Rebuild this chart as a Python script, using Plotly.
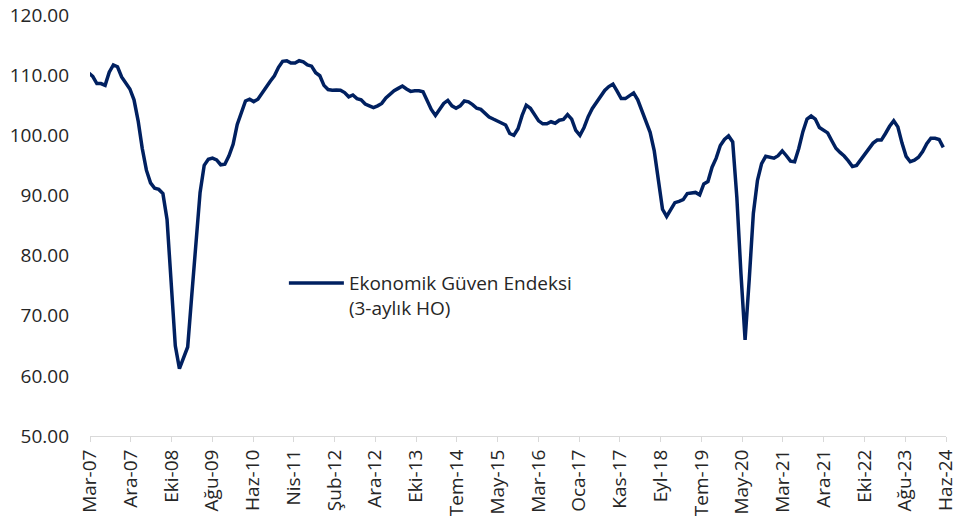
import plotly.graph_objects as go

# Ekonomik Güven Endeksi (3-aylık HO), monthly, Mar-07 .. Haz-24
values = [
    110.4, 109.8, 108.6, 108.6, 108.3, 110.5, 111.7, 111.4, 109.7, 108.8,
    107.7, 105.9, 102.4, 97.8, 94.2, 92.1, 91.2, 91.0, 90.3, 86.0,
    74.5, 65.0, 61.2, 63.0, 64.8, 73.5, 81.5, 90.5, 95.0, 96.0,
    96.2, 95.9, 95.1, 95.2, 96.6, 98.5, 101.8, 103.7, 105.7, 106.0,
    105.6, 106.0, 106.9, 108.0, 109.0, 109.9, 111.3, 112.3, 112.4, 112.0,
    112.0, 112.4, 112.2, 111.7, 111.5, 110.4, 109.9, 108.3, 107.6, 107.5,
    107.55, 107.5, 107.1, 106.4, 106.7, 106.1, 105.9, 105.2, 104.9, 104.6,
    104.9, 105.3, 106.2, 106.9, 107.4, 107.8, 108.2, 107.7, 107.3, 107.4,
    107.4, 107.25, 105.9, 104.3, 103.3, 104.2, 105.3, 105.8, 104.9, 104.5,
    104.9, 105.7, 105.55, 105.1, 104.5, 104.3, 103.7, 103.05, 102.7, 102.45,
    102.05, 101.7, 100.3, 100.0, 101.1, 103.3, 105.0, 104.5, 103.4, 102.4,
    101.9, 101.9, 102.25, 102.0, 102.5, 102.65, 103.45, 102.7, 100.8, 100.0,
    101.3, 103.1, 104.45, 105.45, 106.2, 107.45, 108.1, 108.5, 107.35, 106.1,
    106.1, 106.6, 107.05, 105.9, 104.1, 102.05, 100.5, 97.4, 92.0, 87.7,
    86.5, 87.8, 88.8, 89.0, 89.3, 90.3, 90.4, 90.5, 90.1, 91.9,
    92.3, 94.7, 96.2, 98.3, 99.3, 99.9, 98.9, 89.7, 77.0, 66.0,
    76.0, 87.0, 92.5, 95.3, 96.5, 96.4, 96.2, 96.6, 97.4, 96.6,
    95.7, 95.6, 97.8, 100.6, 102.7, 103.2, 102.7, 101.3, 100.9, 100.4,
    99.1, 97.85, 97.15, 96.55, 95.75, 94.8, 95.0, 95.9, 97.0, 97.9,
    98.7, 99.2, 99.2, 100.3, 101.5, 102.4, 101.4, 98.7, 96.5, 95.6,
    95.85, 96.35, 97.3, 98.6, 99.5, 99.5, 99.3, 98.0,
]

tick_labels = [
    "Mar-07", "Ara-07", "Eki-08", "Ağu-09", "Haz-10", "Nis-11", "Şub-12",
    "Ara-12", "Eki-13", "Tem-14", "May-15", "Mar-16", "Oca-17", "Kas-17",
    "Eyl-18", "Tem-19", "May-20", "Mar-21", "Ara-21", "Eki-22", "Ağu-23",
    "Haz-24",
]

series_name = "Ekonomik Güven Endeksi<br>(3-aylık HO)"

x_idx = list(range(len(values)))
x_lo, x_hi = 0.34, 207.66
step = (x_hi - x_lo) / (len(tick_labels) - 1)
tick_pos = [x_lo + k * step for k in range(len(tick_labels))]

FONT = "Open Sans, Noto Sans, sans-serif"
TXT = "#262626"

fig = go.Figure()
fig.add_trace(go.Scatter(
    x=x_idx, y=values, mode="lines", name=series_name,
    line=dict(color="#002060", width=3.5),
    showlegend=True,
))

fig.update_layout(
    width=959, height=526,
    margin=dict(l=90, r=13, t=15, b=90),
    paper_bgcolor="white", plot_bgcolor="white",
    font=dict(family=FONT, size=19, color=TXT),
    showlegend=True,
    legend=dict(
        x=0.2265, y=0.408, xanchor="left", yanchor="top",
        bgcolor="rgba(0,0,0,0)", font=dict(size=19, color=TXT),
        valign="top", itemwidth=55,
    ),
    xaxis=dict(
        range=[x_lo, x_hi], tickmode="array", tickvals=tick_pos,
        ticktext=tick_labels, tickangle=-90,
        showline=True, linecolor="#d9d9d9", linewidth=1,
        ticks="outside", ticklen=5, tickcolor="#d9d9d9",
        showgrid=False, zeroline=False, automargin=False,
        ticklabeloverflow="allow",
        tickfont=dict(size=19, color=TXT),
    ),
    yaxis=dict(
        range=[50, 120], dtick=10, tick0=50, tickformat=".2f",
        showline=False, showgrid=False, zeroline=False, ticks="",
        automargin=False, ticklabeloverflow="allow",
        ticklabelstandoff=20, tickfont=dict(size=19, color=TXT),
    ),
)

# remove the default 8px page margin so the 959x526 figure fills the window
fig.write_html(
    "out.html",
    config={"displayModeBar": False},
    post_script="document.body.style.margin='0';",
)
